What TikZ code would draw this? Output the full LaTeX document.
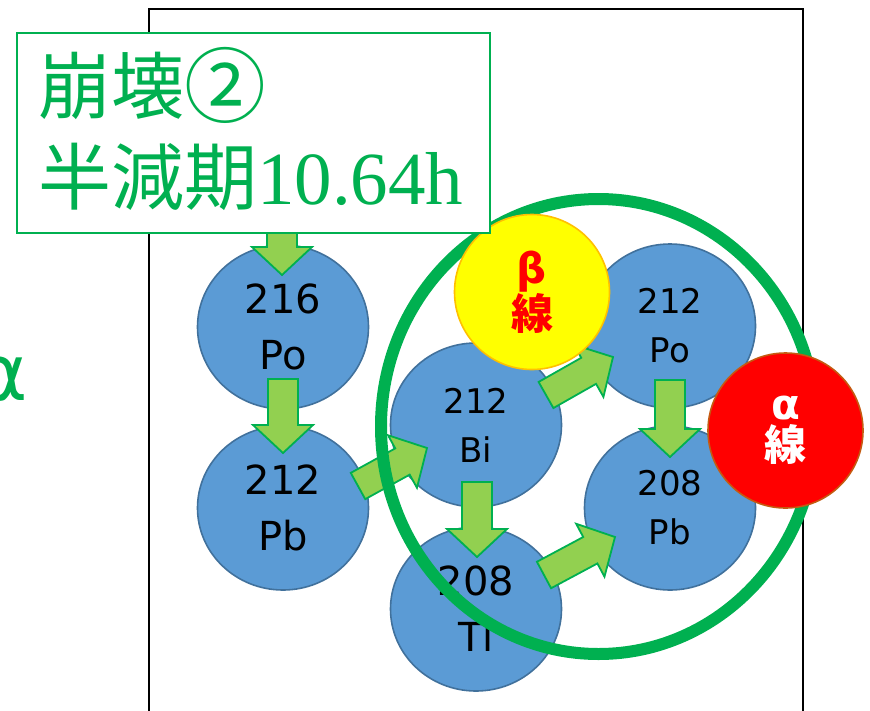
\documentclass[tikz,border=0pt]{standalone}
\usepackage{fontspec}
\newfontfamily\dv{DejaVu Sans}
\newfontfamily\cjk{Noto Sans CJK JP}
\newfontfamily\ser{Liberation Serif}
\usetikzlibrary{calc,shapes.geometric}
\definecolor{nblue}{HTML}{5B9BD5}
\definecolor{nborder}{HTML}{41719C}
\definecolor{ogreen}{HTML}{00B050}
\definecolor{lgreen}{HTML}{92D050}
\definecolor{byellow}{HTML}{FFFF00}
\definecolor{yborder}{HTML}{FFC000}
\definecolor{ared}{HTML}{FF0000}
\definecolor{rborder}{HTML}{C55A11}
\tikzset{
  nucl/.style={ellipse, draw=nborder, line width=1.6pt, fill=nblue, minimum width=171pt, minimum height=164pt, inner sep=0pt, align=center, text=black},
  bigtext/.style={font=\dv\fontsize{40}{56}\selectfont},
  smalltext/.style={font=\dv\fontsize{34}{49}\selectfont},
  barrowstyle/.style={fill=lgreen, draw=ogreen, line width=1.8pt, line join=miter},
  ray/.style={circle, line width=1.6pt, minimum size=155pt, inner sep=0pt, align=center, font=\fontsize{42}{41}\selectfont},
}
\newcommand\blockarrow[2]{%
  \coordinate (ba-base) at ($(#2)!28pt!(#1)$);
  \draw[barrowstyle] ($(#1)!15pt!90:(#2)$) -- ($(ba-base)!15pt!90:(#2)$) -- ($(ba-base)!30pt!90:(#2)$) -- (#2) -- ($(ba-base)!30pt!-90:(#2)$) -- ($(ba-base)!15pt!-90:(#2)$) -- ($(#1)!15pt!-90:(#2)$) -- cycle;}
\begin{document}
\begin{tikzpicture}[x=1pt,y=-1pt]
\useasboundingbox (0,0) rectangle (870,710);
% frame
\draw[line width=2.2pt] (149,730) -- (149,9) coordinate (fr-tl) -- (803,9) coordinate (fr-tr) -- (803,730);
% cut-off alpha at left
\node[text=ogreen, font=\dv\fontsize{78}{78}\selectfont, anchor=base east, inner sep=0pt] (alphaleft) at (28,400) {α};
% nuclei
\node[nucl, bigtext] (po216) at (283,327) {216\\Po};
\node[nucl, bigtext] (pb212) at (283,508) {212\\Pb};
\node[nucl, smalltext] (bi212) at (476,425) {212\\Bi};
\node[nucl, bigtext] (tl208) at (476,609) {208\\Tl};
\node[nucl, smalltext] (po212) at (670,326) {212\\Po};
\node[nucl, smalltext] (pb208) at (670,508) {208\\Pb};
% arrow end points
\coordinate (a0s) at (282,200); \coordinate (a0e) at (282,275);
\coordinate (a1s) at (283,379); \coordinate (a1e) at (283,453);
\coordinate (a2s) at (358,486); \coordinate (a2e) at (427,448);
\coordinate (a3s) at (477,482); \coordinate (a3e) at (477,557);
\coordinate (a4s) at (546,395); \coordinate (a4e) at (613,357);
\coordinate (a5s) at (670,380); \coordinate (a5e) at (670,457);
\coordinate (a6s) at (544,575); \coordinate (a6e) at (615,537);
\blockarrow{a0s}{a0e}
\blockarrow{a1s}{a1e}
\blockarrow{a2s}{a2e}
\blockarrow{a3s}{a3e}
\blockarrow{a4s}{a4e}
\blockarrow{a5s}{a5e}
\blockarrow{a6s}{a6e}
% ring
\draw[ogreen, line width=12pt] (598.5,426.5) ellipse [x radius=217.5, y radius=227.5];
% beta and alpha
\node[ray, draw=yborder, fill=byellow, text=ared] (beta) at (532,292) {{\dv\bfseries β}\\{\cjk\bfseries 線}};
\node[ray, draw=rborder, fill=ared, text=white] (alpha) at (785.5,430.5) {{\dv\bfseries α}\\{\cjk\bfseries 線}};
% label box
\node[draw=ogreen, line width=1.8pt, fill=white, minimum width=473pt, minimum height=200pt, anchor=north west, inner sep=0pt] (box) at (16,32) {};
\node[anchor=base west, inner sep=0pt, text=ogreen, font=\cjk\fontsize{73}{73}\selectfont] (l1) at (38,113) {崩壊\raisebox{-3pt}{\scalebox{1.12}{②}}};
\node[anchor=base west, inner sep=0pt, text=ogreen, font=\cjk\fontsize{73}{73}\selectfont] (l2) at (38,204) {半減期{\ser\fontsize{75}{75}\selectfont 10.64h}};
\end{tikzpicture}
\end{document}
